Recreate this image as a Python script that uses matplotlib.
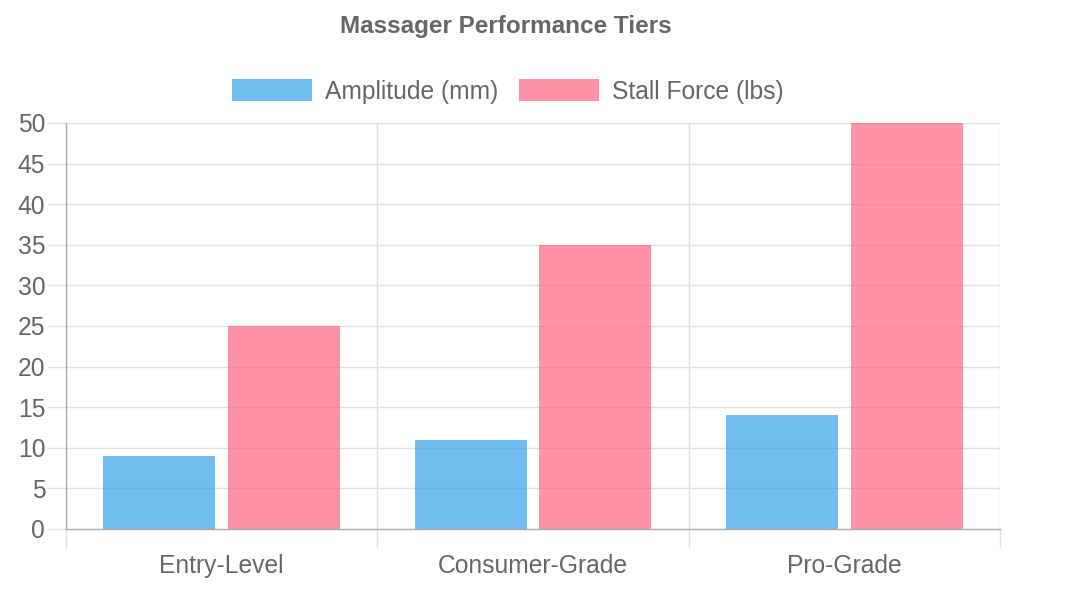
import matplotlib.pyplot as plt
import numpy as np

plt.rcParams['font.family'] = ['Liberation Sans', 'DejaVu Sans']

categories = ["Entry-Level", "Consumer-Grade", "Pro-Grade"]
amplitude = [9, 11, 14]
stall_force = [25, 35, 50]
series_labels = ["Amplitude (mm)", "Stall Force (lbs)"]
yticks = list(range(0, 55, 5))

blue = (54/255, 162/255, 235/255, 0.7)
pink = (255/255, 99/255, 132/255, 0.7)
text_col = "#666666"
grid_col = "#e0e0e0"
axis_col = "#aaaaaa"
fs = 17.7

fig = plt.figure(figsize=(10.72, 6.04), dpi=100)
# plot area in pixels: x 66..1000, y 123..529
ax = fig.add_axes([66/1072, 1 - 529/604, (1000-66)/1072, (529-123)/604])

x = np.arange(len(categories))
w = 0.36
ax.bar(x - 0.2, amplitude, w, color=blue, label=series_labels[0], zorder=2)
ax.bar(x + 0.2, stall_force, w, color=pink, label=series_labels[1], zorder=2)

ax.set_xlim(-0.5, len(categories) - 0.5)
ax.set_ylim(0, 50)
ax.set_yticks(yticks)
ax.set_yticklabels([str(t) for t in yticks])

# gridlines
for t in yticks[1:]:
    ax.axhline(t, color=grid_col, lw=1, zorder=1)
for b in np.arange(-0.5, len(categories), 1.0):
    ax.axvline(b, color=grid_col, lw=1, zorder=1)

ax.set_xticks(x)
ax.set_xticklabels(categories)
ax.set_xticks(np.arange(-0.5, len(categories), 1.0), minor=True)
ax.tick_params(axis='x', which='major', length=0, pad=18, labelsize=fs, labelcolor=text_col)
ax.tick_params(axis='x', which='minor', length=14, width=1, color=grid_col)
ax.tick_params(axis='y', length=14, width=1, color=grid_col, pad=1, labelsize=fs, labelcolor=text_col)

for side in ['top', 'right']:
    ax.spines[side].set_visible(False)
ax.spines['left'].set_color(axis_col)
ax.spines['bottom'].set_color(axis_col)
ax.spines['left'].set_linewidth(1)
ax.spines['bottom'].set_linewidth(1)
ax.spines['bottom'].set_zorder(3)

fig.text(506/1072, 1 - 26/604, "Massager Performance Tiers", ha='center', va='center',
         fontsize=17.5, fontweight='bold', color=text_col)

fig.legend(loc='center', bbox_to_anchor=(508/1072, 1 - 91.5/604), ncol=2, frameon=False,
           fontsize=fs, labelcolor=text_col, handlelength=3.25, handleheight=1.0,
           handletextpad=0.53, columnspacing=0.85)

fig.savefig("out.png", dpi=100)
